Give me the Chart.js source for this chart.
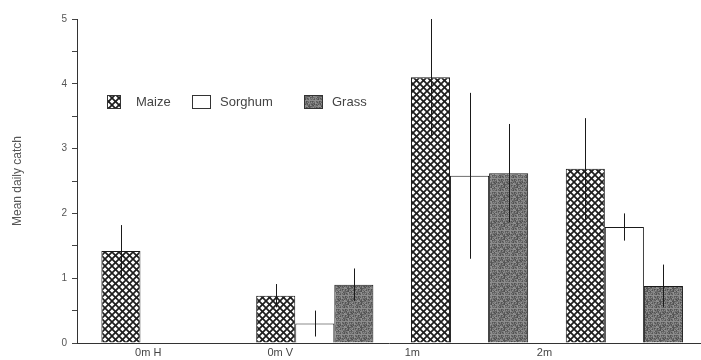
<!DOCTYPE html>
<html>
<head>
<meta charset="utf-8">
<script src="https://cdn.jsdelivr.net/npm/chart.js@4.4.1/dist/chart.umd.min.js"></script>
<style>
  html, body { margin: 0; padding: 0; background: #ffffff; }
  #wrap { position: relative; width: 701px; height: 360px; }
</style>
</head>
<body>
<div id="wrap"><canvas id="c" width="701" height="360"></canvas></div>
<script>
// ---- data ----
const categories = ['0m H', '0m V', '1m', '2m'];
const seriesNames = ['Maize', 'Sorghum', 'Grass'];
const maize = [1.42, 0.73, 4.10, 2.69];
const sorghum = [null, 0.30, 2.58, 1.79];
const grass = [null, 0.90, 2.62, 0.88];
const maizeErr = [0.40, 0.18, 0.90, 0.78];
const sorghumErr = [null, 0.20, 1.28, 0.21];
const grassErr = [null, 0.25, 0.76, 0.33];
const yTicks = [0, 1, 2, 3, 4, 5];

// ---- patterns (texture only) ----
function crossHatch() {
  const s = 7;
  const c = document.createElement('canvas');
  c.width = s; c.height = s;
  const g = c.getContext('2d');
  g.fillStyle = '#ffffff'; g.fillRect(0, 0, s, s);
  g.strokeStyle = '#1e1e1e'; g.lineWidth = 1.7;
  for (const o of [-s, 0, s]) {
    g.beginPath(); g.moveTo(o - 1, -1); g.lineTo(o + s + 1, s + 1); g.stroke();
    g.beginPath(); g.moveTo(o + s + 1, -1); g.lineTo(o - 1, s + 1); g.stroke();
  }
  return g.createPattern(c, 'repeat');
}
function stipple() {
  const n = 13;
  const c = document.createElement('canvas');
  c.width = n; c.height = n;
  const g = c.getContext('2d');
  for (let y = 0; y < n; y++) for (let x = 0; x < n; x++) {
    const h = ((x * 73 + y * 151 + x * y * 37) % 29) / 28; // deterministic texture
    const v = Math.round(78 + h * 70);
    g.fillStyle = `rgb(${v},${v},${v})`;
    g.fillRect(x, y, 1, 1);
  }
  return g.createPattern(c, 'repeat');
}
const ctx = document.getElementById('c').getContext('2d');
const fills = [crossHatch(), '#ffffff', stipple()];
const values = [maize, sorghum, grass];
const errors = [maizeErr, sorghumErr, grassErr];

// ---- plugins ----
const errorBars = {
  id: 'errorBars',
  afterDatasetsDraw(chart) {
    const g = chart.ctx, y = chart.scales.y, area = chart.chartArea;
    g.save();
    g.beginPath(); g.rect(area.left, 0, area.right - area.left, area.bottom); g.clip();
    g.strokeStyle = '#1a1a1a'; g.lineWidth = 1;
    chart.data.datasets.forEach((ds, di) => {
      const meta = chart.getDatasetMeta(di);
      errors[di].forEach((e, i) => {
        const v = values[di][i];
        if (v == null || e == null) return;
        const bar = meta.data[i];
        const x = Math.round(bar.x) + 0.5;
        g.beginPath();
        g.moveTo(x, y.getPixelForValue(v + e));
        g.lineTo(x, y.getPixelForValue(v - e));
        g.stroke();
      });
    });
    g.restore();
  }
};
const legendBox = {
  id: 'legendBox',
  afterDraw(chart) {
    const g = chart.ctx;
    const items = [
      { sx: 107, sw: 13, tx: 136 },
      { sx: 192, sw: 18, tx: 220 },
      { sx: 304, sw: 18, tx: 332 }
    ];
    g.save();
    g.font = '13px "Liberation Sans", Arial, sans-serif';
    g.textBaseline = 'middle';
    items.forEach((it, i) => {
      g.fillStyle = fills[i];
      g.fillRect(it.sx, 95, it.sw, 13);
      g.strokeStyle = '#333'; g.lineWidth = 1;
      g.strokeRect(it.sx + 0.5, 95.5, it.sw, 13);
      g.fillStyle = '#444';
      g.fillText(seriesNames[i], it.tx, 102);
    });
    g.restore();
  }
};

// ---- chart ----
const datasets = seriesNames.map((name, di) => ({
  label: name,
  data: values[di].map((v, i) => ({ x: i, y: v })),
  backgroundColor: fills[di],
  borderColor: '#1a1a1a',
  borderWidth: 1,
  xAxisID: 'x',
  categoryPercentage: 0.757,
  barPercentage: 1.0
}));

new Chart(ctx, {
  type: 'bar',
  data: { datasets },
  options: {
    responsive: false,
    animation: false,
    layout: { padding: { top: 19, right: 0, bottom: 0, left: 0 } },
    plugins: { legend: { display: false }, tooltip: { enabled: false } },
    scales: {
      x: {
        type: 'linear', display: false, offset: false,
        min: -0.536, max: 3.495,
        afterBuildTicks(scale) { scale.ticks = categories.map((c, i) => ({ value: i })); }
      },
      xl: {
        type: 'linear', position: 'bottom', offset: false,
        min: -0.539, max: 4.185,
        afterBuildTicks(scale) { scale.ticks = categories.map((c, i) => ({ value: i })); },
        afterFit(scale) { scale.height = 17; },
        grid: { display: false, drawTicks: false },
        border: { display: true, color: '#333', width: 1 },
        ticks: {
          padding: 3,
          color: '#444',
          font: { family: '"Liberation Sans", Arial, sans-serif', size: 11 },
          maxRotation: 0, autoSkip: false,
          callback: (v) => categories[Math.round(v)]
        }
      },
      y: {
        min: 0, max: 5,
        afterBuildTicks(scale) {
          const t = [];
          for (let v = 0; v <= 5.001; v += 0.5) t.push({ value: Math.round(v * 10) / 10 });
          scale.ticks = t;
        },
        afterFit(scale) { scale.width = 77; },
        grid: { display: true, drawOnChartArea: false, drawTicks: true, tickLength: 5, color: '#444' },
        border: { display: true, color: '#333', width: 1 },
        ticks: {
          padding: 5,
          color: '#555',
          font: { family: '"Liberation Sans", Arial, sans-serif', size: 10 },
          callback: (v) => (yTicks.includes(v) ? String(v) : '')
        },
        title: {
          display: true, text: 'Mean daily catch', color: '#555',
          font: { family: '"Liberation Sans", Arial, sans-serif', size: 12 },
          padding: { top: 10, bottom: 0 }
        }
      }
    }
  },
  plugins: [errorBars, legendBox]
});
</script>
</body>
</html>
